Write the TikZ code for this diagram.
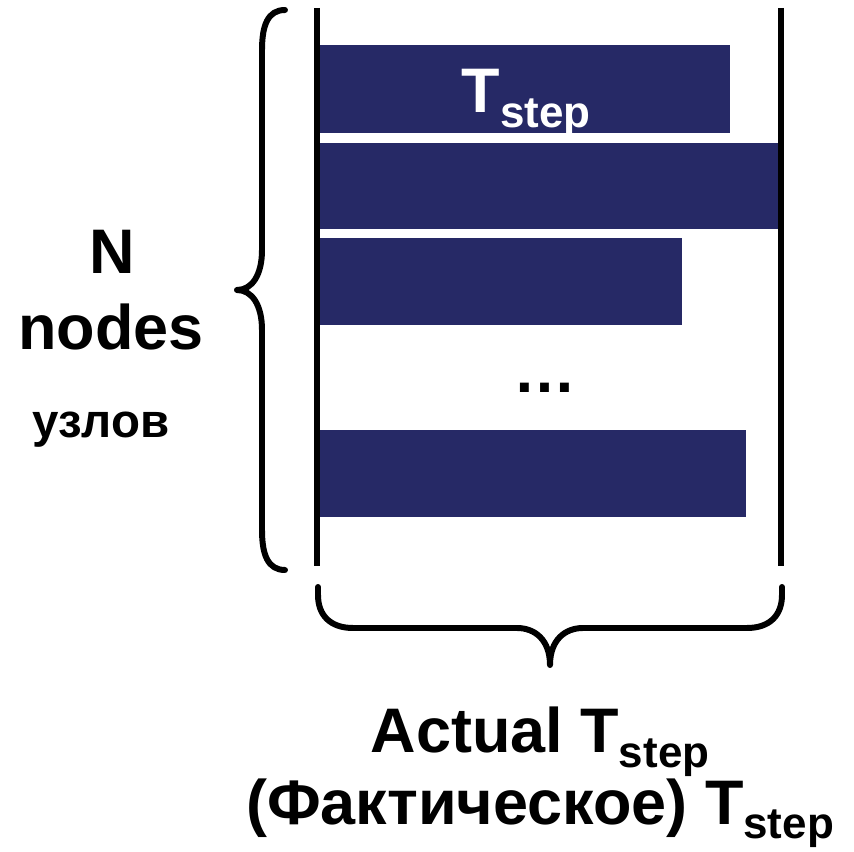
\documentclass[tikz,border=0pt]{standalone}
\usepackage{fontspec}
\setmainfont{Liberation Sans}
\definecolor{barnavy}{RGB}{38,41,102}
\newcommand{\Tstep}{T\raisebox{-4.2pt}{\fontsize{12.5}{12.5}\selectfont step}}
\begin{document}
\begin{tikzpicture}[
  x=0.01cm, y=-0.01cm,
  bar/.style={fill=barnavy},
  rule/.style={line width=1.7pt},
  bracepath/.style={line width=1.7pt, line cap=round, line join=round},
  big/.style={font=\fontsize{17.9}{20}\selectfont\bfseries, inner sep=0pt},
  small/.style={font=\fontsize{13.5}{15}\selectfont\bfseries, inner sep=0pt}
]
\useasboundingbox (0,0) rectangle (854,852);

% ---- bars, one per node ----
\fill[bar] (320,45)  rectangle (730,133);
\fill[bar] (320,143) rectangle (778,229);
\fill[bar] (320,238) rectangle (682,325);
\fill[bar] (320,430) rectangle (746,517);
\node[big,text=white,anchor=base] (tstep) at (526,113) {\Tstep};

% dots between bars
\node[big,anchor=base] (dots) at (545,393) {…};

% ---- vertical limits ----
\draw[rule] (317,8) -- (317,566);
\draw[rule] (781,8) -- (781,566);

% ---- left brace ----
\draw[bracepath] (285,10) .. controls (268,10) and (262,25) .. (262,50)
  -- (262,250) .. controls (262,275) and (252,290) .. (237,290)
  .. controls (252,290) and (262,305) .. (262,330)
  -- (262,530) .. controls (262,555) and (268,570) .. (285,570);

% ---- bottom brace ----
\draw[bracepath] (318,587) -- (318,595) .. controls (318,615) and (330,628) .. (353,628)
  -- (517,628) .. controls (535,628) and (550,640) .. (550,665)
  .. controls (550,640) and (565,628) .. (583,628)
  -- (747,628) .. controls (770,628) and (782,615) .. (782,595) -- (782,587);

% ---- labels ----
\node[big,anchor=base] (nlbl) at (112,274) {N};
\node[big,anchor=base] (nodeslbl) at (111,350) {nodes};
\node[small,anchor=base] (uzlov) at (101,438) {узлов};

\node[big,anchor=base] (actual) at (540,753) {Actual \Tstep};
\node[big,anchor=base] (fakt) at (540,824) {(Фактическое) \Tstep};
\end{tikzpicture}
\end{document}
